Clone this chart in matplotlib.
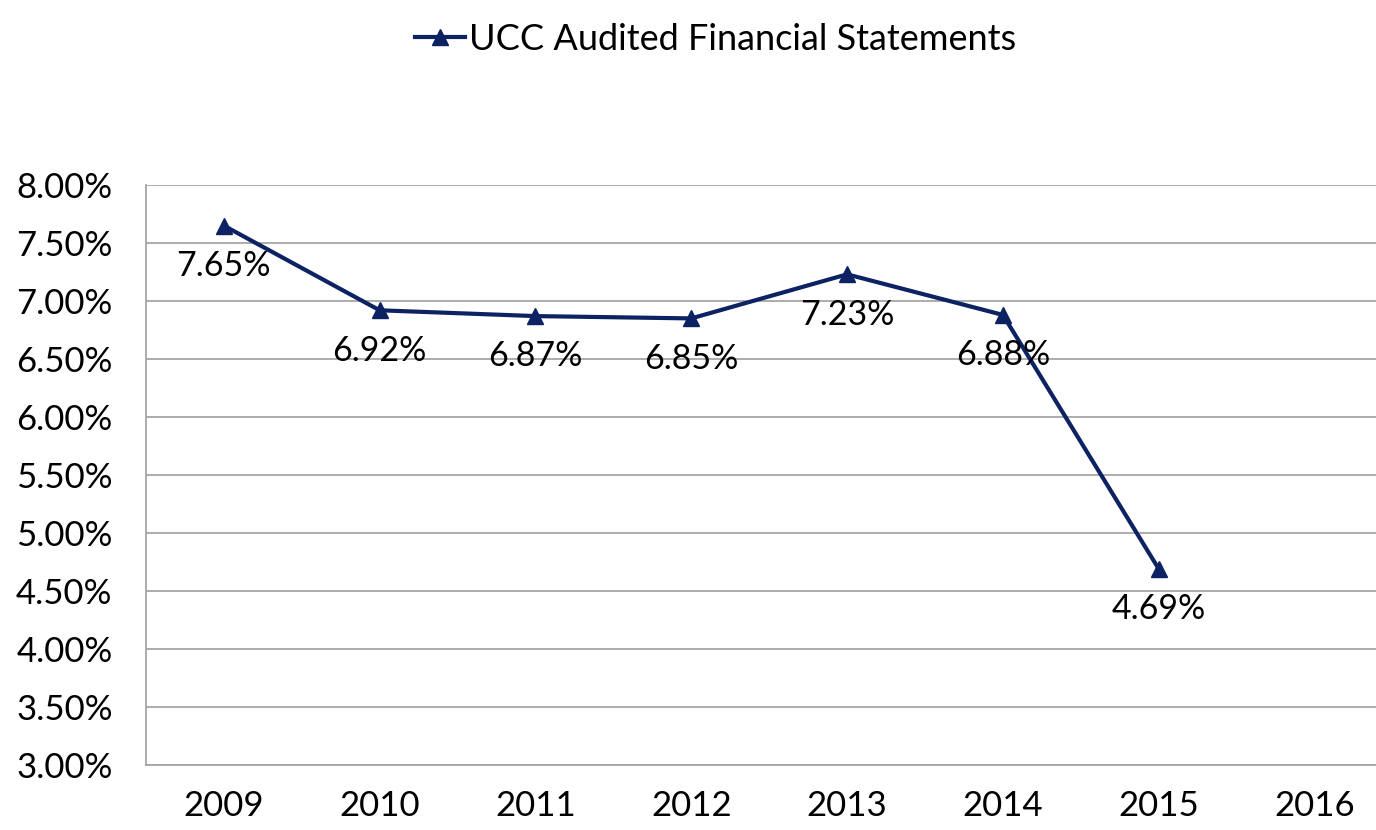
import matplotlib.pyplot as plt
from matplotlib.ticker import FuncFormatter

# Chart data
years = ['2009', '2010', '2011', '2012', '2013', '2014', '2015', '2016']
rates = [7.65, 6.92, 6.87, 6.85, 7.23, 6.88, 4.69]
series_name = 'UCC Audited Financial Statements'

LINE_COLOR = '#0C2262'
GRID_COLOR = '#A6A6A6'
FONT = 'Lato'

plt.rcParams['font.family'] = [FONT, 'DejaVu Sans']

fig = plt.figure(figsize=(13.76, 8.30), dpi=100)
# plot area runs slightly past the right edge of the figure, as in the original
ax = fig.add_axes([0.106, 0.0783, 0.906, 0.6988])

x = list(range(len(rates)))
ax.plot(x, rates, color=LINE_COLOR, linewidth=3, marker='^', markersize=12,
        label=series_name, zorder=3)

# Data labels below each point
for xi, v in zip(x, rates):
    ax.annotate(f"{v:.2f}%", xy=(xi, v), xytext=(0, -29), textcoords='offset points',
                ha='center', va='center', fontsize=24.5, color='black', zorder=4)

ax.set_xlim(-0.5, len(years) - 0.5)
ax.set_xticks(range(len(years)))
ax.set_xticklabels(years)
ax.set_ylim(3.0, 8.0)
ax.set_yticks([3.0 + 0.5 * i for i in range(11)])
ax.yaxis.set_major_formatter(FuncFormatter(lambda v, p: f"{v:.2f}%"))

ax.grid(True, axis='y', color=GRID_COLOR, linewidth=1.3, zorder=1)
ax.set_axisbelow(True)
ax.spines['top'].set_visible(False)
ax.spines['right'].set_visible(False)
ax.spines['left'].set_color(GRID_COLOR)
ax.spines['bottom'].set_color(GRID_COLOR)
ax.spines['left'].set_linewidth(1.3)
ax.spines['bottom'].set_linewidth(1.3)
ax.tick_params(axis='both', length=0, labelsize=25, colors='black')
ax.tick_params(axis='x', pad=18)
ax.tick_params(axis='y', pad=24)

leg = fig.legend(loc='upper center', bbox_to_anchor=(0.52, 1.012), frameon=False,
                 fontsize=26, handlelength=1.4, handletextpad=0.1)

fig.savefig('out.png', dpi=100, facecolor='white')
